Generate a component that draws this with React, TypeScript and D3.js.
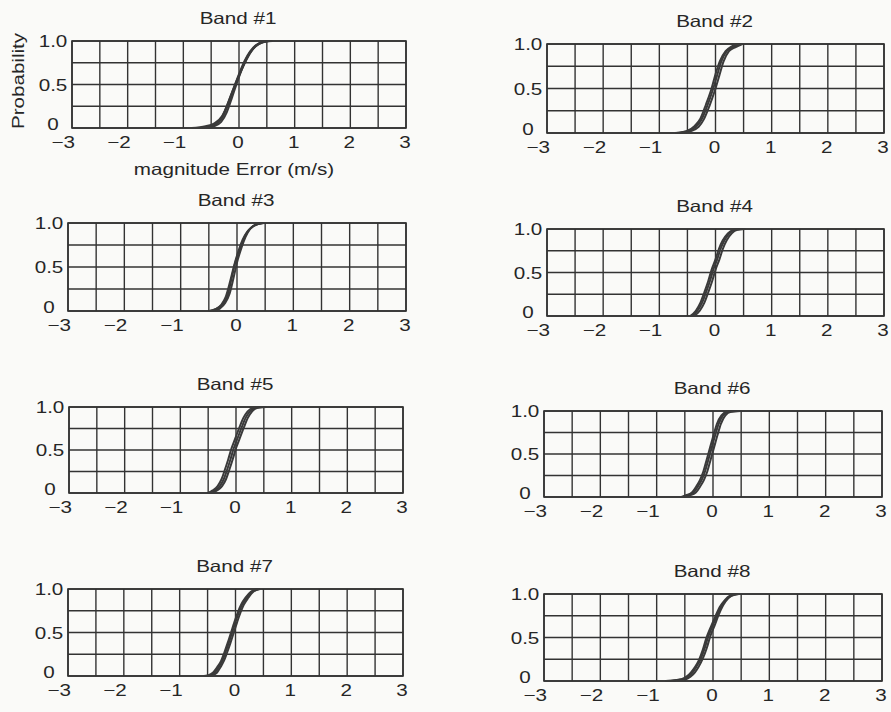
import React from "react";
import * as d3 from "d3";

type Pt = [number, number];

const BAND_TITLES = ["Band #1", "Band #2", "Band #3", "Band #4", "Band #5", "Band #6", "Band #7", "Band #8"];
const X_TICKS = [-3, -2, -1, 0, 1, 2, 3];
const X_TICK_LABELS = ["\u22123", "\u22122", "\u22121", "0", "1", "2", "3"];
const Y_TICKS = [0, 0.5, 1];
const Y_TICK_LABELS = ["0", "0.5", "1.0"];
const X_LABEL = "magnitude Error (m/s)";
const Y_LABEL = "Probability";

const band1: Pt[][] = [
  [[-0.85, 0], [-0.6, 0.02], [-0.45, 0.05], [-0.3, 0.14], [-0.2, 0.28], [-0.1, 0.45], [0, 0.62], [0.1, 0.77], [0.2, 0.88], [0.3, 0.95], [0.45, 0.99], [0.6, 1.0]],
  [[-0.7, 0], [-0.5, 0.03], [-0.35, 0.08], [-0.25, 0.2], [-0.15, 0.37], [-0.05, 0.53], [0.05, 0.68], [0.15, 0.82], [0.25, 0.91], [0.35, 0.97], [0.5, 1.0]],
  [[-0.55, 0], [-0.42, 0.04], [-0.3, 0.12], [-0.2, 0.26], [-0.1, 0.43], [0, 0.6], [0.1, 0.74], [0.2, 0.86], [0.3, 0.94], [0.4, 0.98], [0.55, 1.0]],
  [[-0.65, 0], [-0.45, 0.02], [-0.32, 0.07], [-0.22, 0.18], [-0.12, 0.36], [-0.02, 0.55], [0.08, 0.72], [0.18, 0.85], [0.28, 0.93], [0.4, 0.98], [0.52, 1.0]],
];
const band2: Pt[][] = [
  [[-0.7, 0], [-0.5, 0.02], [-0.35, 0.07], [-0.25, 0.15], [-0.15, 0.3], [-0.05, 0.48], [0.03, 0.65], [0.1, 0.8], [0.2, 0.92], [0.3, 0.96], [0.45, 1.0]],
  [[-0.62, 0], [-0.45, 0.02], [-0.3, 0.07], [-0.21, 0.15], [-0.11, 0.3], [-0.01, 0.48], [0.07, 0.65], [0.14, 0.8], [0.24, 0.92], [0.34, 0.96], [0.48, 1.0]],
  [[-0.72, 0], [-0.52, 0.02], [-0.37, 0.08], [-0.27, 0.16], [-0.17, 0.32], [-0.07, 0.5], [0.0, 0.66], [0.08, 0.81], [0.18, 0.92], [0.28, 0.97], [0.42, 1.0]],
];
const band3: Pt[][] = [
  [[-0.48, 0], [-0.35, 0.03], [-0.25, 0.08], [-0.17, 0.17], [-0.1, 0.36], [-0.03, 0.55], [0.05, 0.7], [0.12, 0.82], [0.2, 0.91], [0.3, 0.97], [0.46, 1.0]],
  [[-0.42, 0], [-0.3, 0.03], [-0.21, 0.09], [-0.13, 0.2], [-0.06, 0.38], [0.0, 0.55], [0.08, 0.72], [0.15, 0.84], [0.23, 0.93], [0.33, 0.98], [0.48, 1.0]],
  [[-0.5, 0], [-0.38, 0.02], [-0.28, 0.07], [-0.2, 0.16], [-0.12, 0.34], [-0.05, 0.52], [0.03, 0.69], [0.1, 0.81], [0.18, 0.9], [0.28, 0.96], [0.44, 1.0]],
];
const band4: Pt[][] = [
  [[-0.42, 0], [-0.32, 0.06], [-0.24, 0.15], [-0.17, 0.27], [-0.1, 0.4], [-0.04, 0.53], [0.03, 0.65], [0.09, 0.77], [0.16, 0.87], [0.25, 0.95], [0.35, 0.99], [0.51, 1.0]],
  [[-0.38, 0], [-0.28, 0.06], [-0.2, 0.15], [-0.13, 0.27], [-0.06, 0.4], [0.0, 0.53], [0.07, 0.65], [0.13, 0.77], [0.2, 0.87], [0.29, 0.95], [0.39, 0.99], [0.53, 1.0]],
  [[-0.45, 0], [-0.35, 0.06], [-0.27, 0.15], [-0.2, 0.27], [-0.13, 0.4], [-0.07, 0.53], [0.0, 0.65], [0.06, 0.77], [0.13, 0.87], [0.22, 0.95], [0.32, 0.99], [0.48, 1.0]],
];
const band5: Pt[][] = [
  [[-0.47, 0], [-0.38, 0.03], [-0.29, 0.08], [-0.22, 0.16], [-0.16, 0.27], [-0.1, 0.39], [-0.04, 0.52], [0.03, 0.64], [0.1, 0.76], [0.17, 0.87], [0.25, 0.95], [0.35, 0.99], [0.52, 1.0]],
  [[-0.43, 0], [-0.34, 0.03], [-0.25, 0.08], [-0.18, 0.16], [-0.12, 0.27], [-0.06, 0.39], [0.0, 0.52], [0.07, 0.64], [0.14, 0.76], [0.21, 0.87], [0.29, 0.95], [0.39, 0.99], [0.55, 1.0]],
  [[-0.5, 0], [-0.42, 0.03], [-0.33, 0.08], [-0.26, 0.16], [-0.2, 0.27], [-0.14, 0.39], [-0.08, 0.52], [-0.01, 0.64], [0.06, 0.76], [0.13, 0.87], [0.21, 0.95], [0.31, 0.99], [0.48, 1.0]],
];
const band6: Pt[][] = [
  [[-0.53, 0], [-0.45, 0.02], [-0.35, 0.05], [-0.27, 0.12], [-0.2, 0.2], [-0.14, 0.3], [-0.08, 0.44], [-0.02, 0.58], [0.04, 0.72], [0.1, 0.85], [0.18, 0.95], [0.28, 0.99], [0.47, 1.0]],
  [[-0.5, 0], [-0.41, 0.02], [-0.31, 0.05], [-0.23, 0.12], [-0.16, 0.2], [-0.1, 0.3], [-0.04, 0.44], [0.02, 0.58], [0.08, 0.72], [0.14, 0.85], [0.22, 0.95], [0.32, 0.99], [0.5, 1.0]],
  [[-0.56, 0], [-0.48, 0.02], [-0.38, 0.05], [-0.3, 0.12], [-0.23, 0.2], [-0.17, 0.3], [-0.11, 0.44], [-0.05, 0.58], [0.01, 0.72], [0.07, 0.85], [0.15, 0.95], [0.25, 0.99], [0.44, 1.0]],
];
const band7: Pt[][] = [
  [[-0.55, 0], [-0.45, 0.01], [-0.37, 0.04], [-0.3, 0.1], [-0.24, 0.17], [-0.18, 0.27], [-0.12, 0.38], [-0.06, 0.5], [0.0, 0.62], [0.06, 0.73], [0.12, 0.82], [0.2, 0.9], [0.3, 0.97], [0.42, 1.0]],
  [[-0.5, 0], [-0.41, 0.01], [-0.33, 0.04], [-0.27, 0.1], [-0.21, 0.17], [-0.15, 0.27], [-0.09, 0.38], [-0.03, 0.5], [0.03, 0.62], [0.09, 0.73], [0.15, 0.82], [0.23, 0.9], [0.32, 0.97], [0.44, 1.0]],
  [[-0.57, 0], [-0.48, 0.01], [-0.4, 0.04], [-0.33, 0.1], [-0.26, 0.17], [-0.2, 0.27], [-0.14, 0.38], [-0.08, 0.5], [-0.02, 0.62], [0.04, 0.73], [0.1, 0.82], [0.18, 0.9], [0.28, 0.97], [0.4, 1.0]],
];
const band8: Pt[][] = [
  [[-0.83, 0], [-0.65, 0.01], [-0.53, 0.02], [-0.44, 0.05], [-0.36, 0.1], [-0.29, 0.17], [-0.22, 0.25], [-0.15, 0.37], [-0.09, 0.5], [-0.01, 0.63], [0.07, 0.75], [0.15, 0.86], [0.24, 0.94], [0.33, 0.98], [0.45, 1.0]],
  [[-0.75, 0], [-0.6, 0.01], [-0.48, 0.02], [-0.4, 0.05], [-0.32, 0.1], [-0.25, 0.17], [-0.18, 0.26], [-0.11, 0.38], [-0.05, 0.51], [0.03, 0.64], [0.1, 0.76], [0.18, 0.87], [0.27, 0.95], [0.36, 0.99], [0.47, 1.0]],
  [[-0.85, 0], [-0.68, 0.01], [-0.56, 0.02], [-0.47, 0.05], [-0.39, 0.1], [-0.32, 0.16], [-0.25, 0.24], [-0.18, 0.36], [-0.12, 0.49], [-0.04, 0.62], [0.04, 0.74], [0.12, 0.85], [0.21, 0.93], [0.3, 0.98], [0.42, 1.0]],
];

const BANDS = [band1, band2, band3, band4, band5, band6, band7, band8];

const LAYOUT = [
  { l: 72, r: 406, t: 41, b: 128 },
  { l: 547, r: 884, t: 44, b: 133 },
  { l: 68, r: 406, t: 223, b: 311 },
  { l: 547, r: 884, t: 229, b: 316 },
  { l: 69, r: 403, t: 407, b: 493 },
  { l: 544, r: 882, t: 411, b: 497 },
  { l: 68, r: 403, t: 589, b: 676 },
  { l: 544, r: 882, t: 594, b: 681 },
];

const INK = "#333333";
const TEXT_INK = "#262626";
const FONT = "'Liberation Sans', Arial, Helvetica, sans-serif";
const SX = 1.25;
const FS = 16.5;

function Label({ x, y, anchor = "middle", rotate = 0, children }: any) {
  return (
    <g transform={`translate(${x},${y})${rotate ? ` rotate(${rotate})` : ""} scale(${SX},1)`}>
      <text textAnchor={anchor} fontFamily={FONT} fontSize={FS} fill={TEXT_INK}>
        {children}
      </text>
    </g>
  );
}

function Panel({ idx }: { idx: number }) {
  const L = LAYOUT[idx];
  const x = d3.scaleLinear().domain([-3, 3]).range([L.l, L.r]);
  const y = d3.scaleLinear().domain([0, 1]).range([L.b, L.t]);
  const xGrid = d3.range(-3, 3.001, 0.5);
  const yGrid = d3.range(0, 1.001, 0.25);
  const line = d3
    .line<Pt>()
    .x((d) => x(d[0]))
    .y((d) => y(d[1]))
    .curve(d3.curveMonotoneX);
  return (
    <g>
      <Label x={x(0) - 1} y={L.t - 17}>{BAND_TITLES[idx]}</Label>
      {xGrid.map((v) => (
        <line key={"vx" + v} x1={x(v)} x2={x(v)} y1={L.t} y2={L.b} stroke={INK} strokeWidth={1.4} />
      ))}
      {yGrid.map((v) => (
        <line key={"hy" + v} x1={L.l} x2={L.r} y1={y(v)} y2={y(v)} stroke={INK} strokeWidth={1.4} />
      ))}
      <rect x={L.l} y={L.t} width={L.r - L.l} height={L.b - L.t} fill="none" stroke={INK} strokeWidth={1.6} />
      {BANDS[idx].map((c, i) => (
        <path key={i} d={line(c) || ""} fill="none" stroke="#3a3a3a" strokeWidth={2} strokeLinejoin="round" />
      ))}
      {X_TICKS.map((v, i) =>
        v < 0 ? (
          <Label key={"xt" + v} x={x(v) + 3} y={L.b + 20} anchor="end">{X_TICK_LABELS[i]}</Label>
        ) : (
          <Label key={"xt" + v} x={x(v) - 1} y={L.b + 20}>{X_TICK_LABELS[i]}</Label>
        )
      )}
      {Y_TICKS.map((v, i) => (
        <Label key={"yt" + v} x={L.l - 19} y={v === 0 ? y(v) + 2 : y(v) + 6}>{Y_TICK_LABELS[i]}</Label>
      ))}
    </g>
  );
}

export default function App() {
  return (
    <svg
      width={891}
      height={712}
      style={{ position: "absolute", left: 0, top: 0, background: "#fafaf8" }}
    >
      <rect x={0} y={0} width={891} height={712} fill="#fafaf8" />
      {LAYOUT.map((_, i) => (
        <Panel key={i} idx={i} />
      ))}
      <Label x={234} y={175}>{X_LABEL}</Label>
      <Label x={24} y={81} rotate={-90}>{Y_LABEL}</Label>
    </svg>
  );
}
